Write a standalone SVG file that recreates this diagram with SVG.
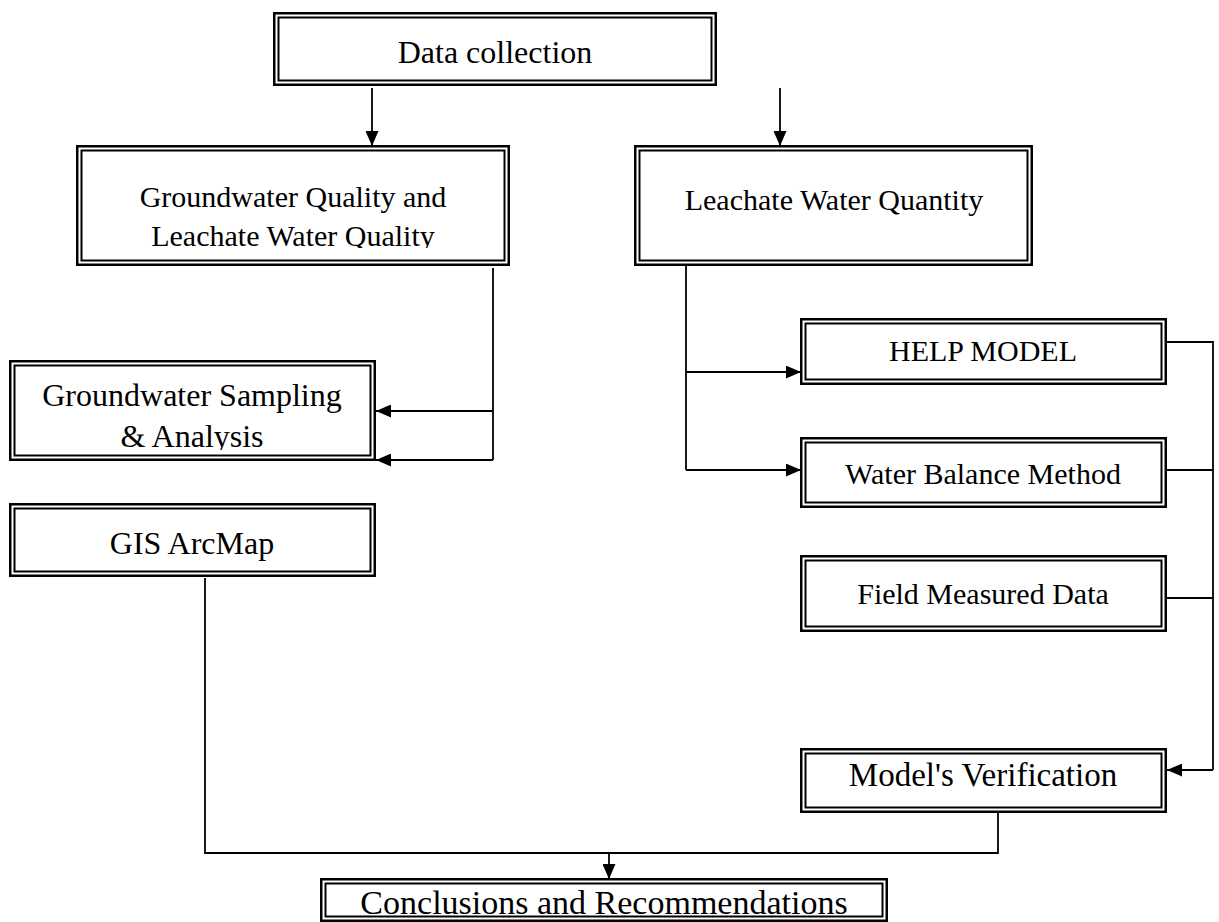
<svg xmlns="http://www.w3.org/2000/svg" width="1219" height="922" viewBox="0 0 1219 922">
<style>
.o{fill:#fff;stroke:#000;stroke-width:2.5}
.i{fill:none;stroke:#000;stroke-width:2}
.t{font-family:"Liberation Serif","Times New Roman",serif;font-size:32px;fill:#000;text-anchor:middle}
.c{fill:none;stroke:#000;stroke-width:1.8}
</style>
<defs>
<marker id="ah" viewBox="0 0 15 13" refX="15" refY="6.5" markerWidth="15" markerHeight="13" markerUnits="userSpaceOnUse" orient="auto">
<path d="M0,0 L15,6.5 L0,13 Z" fill="#000"/>
</marker>
<clipPath id="cl1"><rect x="80" y="150" width="420" height="98"/></clipPath>
<clipPath id="cl2"><rect x="12" y="365" width="360" height="85"/></clipPath>
</defs>
<rect width="1219" height="922" fill="#fff"/>
<g id="connectors">
<line class="c" x1="372" y1="88" x2="372" y2="146" marker-end="url(#ah)"/>
<line class="c" x1="780" y1="88" x2="780" y2="146" marker-end="url(#ah)"/>
<polyline class="c" points="493,268 493,460"/>
<line class="c" x1="493" y1="411" x2="376" y2="411" marker-end="url(#ah)"/>
<line class="c" x1="493" y1="460" x2="376" y2="460" marker-end="url(#ah)"/>
<polyline class="c" points="686,266 686,470"/>
<line class="c" x1="686" y1="372" x2="801" y2="372" marker-end="url(#ah)"/>
<line class="c" x1="686" y1="470" x2="801" y2="470" marker-end="url(#ah)"/>
<polyline class="c" points="1167,342 1213,342 1213,770"/>
<line class="c" x1="1167" y1="470" x2="1213" y2="470"/>
<line class="c" x1="1167" y1="598" x2="1213" y2="598"/>
<line class="c" x1="1213" y1="770" x2="1167" y2="770" marker-end="url(#ah)"/>
<polyline class="c" points="205,578 205,853 998,853 998,812"/>
<line class="c" x1="609" y1="853" x2="609" y2="879" marker-end="url(#ah)"/>
</g>
<g id="data-collection">
<rect class="o" x="274.25" y="13.25" width="441.5" height="71.5"/>
<rect class="i" x="278.5" y="17.5" width="433" height="63"/>
<text class="t" x="495" y="63">Data collection</text>
</g>
<g id="groundwater-quality">
<rect class="o" x="77.25" y="146.25" width="431.5" height="118.5"/>
<rect class="i" x="81.5" y="150.5" width="423" height="110"/>
<g clip-path="url(#cl1)">
<text class="t" x="293" y="207" style="font-size:30px">Groundwater Quality and</text>
<text class="t" x="293" y="246" style="font-size:30px">Leachate Water Quality</text>
</g>
</g>
<g id="leachate-quantity">
<rect class="o" x="635.25" y="146.25" width="396.5" height="118.5"/>
<rect class="i" x="639.5" y="150.5" width="388" height="110"/>
<text class="t" x="834" y="210" style="font-size:30px">Leachate Water Quantity</text>
</g>
<g id="help-model">
<rect class="o" x="801.25" y="319.25" width="364.5" height="64.5"/>
<rect class="i" x="805.5" y="323.5" width="356" height="56"/>
<text class="t" x="983" y="361" style="font-size:30px">HELP MODEL</text>
</g>
<g id="water-balance">
<rect class="o" x="801.25" y="438.25" width="364.5" height="68.5"/>
<rect class="i" x="805.5" y="442.5" width="356" height="60"/>
<text class="t" x="983" y="484" style="font-size:30px">Water Balance Method</text>
</g>
<g id="field-measured">
<rect class="o" x="801.25" y="556.25" width="364.5" height="74.5"/>
<rect class="i" x="805.5" y="560.5" width="356" height="66"/>
<text class="t" x="983" y="604" style="font-size:30px">Field Measured Data</text>
</g>
<g id="model-verification">
<rect class="o" x="801.25" y="749.25" width="364.5" height="62.5"/>
<rect class="i" x="805.5" y="753.5" width="356" height="54"/>
<text class="t" x="983" y="786" style="font-size:33px">Model's Verification</text>
</g>
<g id="groundwater-sampling">
<rect class="o" x="10.25" y="361.25" width="364.5" height="98.5"/>
<rect class="i" x="14.5" y="365.5" width="356" height="90"/>
<g clip-path="url(#cl2)">
<text class="t" x="192" y="406">Groundwater Sampling</text>
<text class="t" x="192" y="447">&amp; Analysis</text>
</g>
</g>
<g id="gis-arcmap">
<rect class="o" x="10.25" y="504.25" width="364.5" height="71.5"/>
<rect class="i" x="14.5" y="508.5" width="356" height="63"/>
<text class="t" x="192" y="554">GIS ArcMap</text>
</g>
<g id="conclusions">
<rect class="o" x="321.25" y="879.25" width="565.5" height="41.5"/>
<rect class="i" x="325.5" y="883.5" width="557" height="33"/>
<text class="t" x="604" y="914" style="font-size:34px">Conclusions and Recommendations</text>
</g>
</svg>
